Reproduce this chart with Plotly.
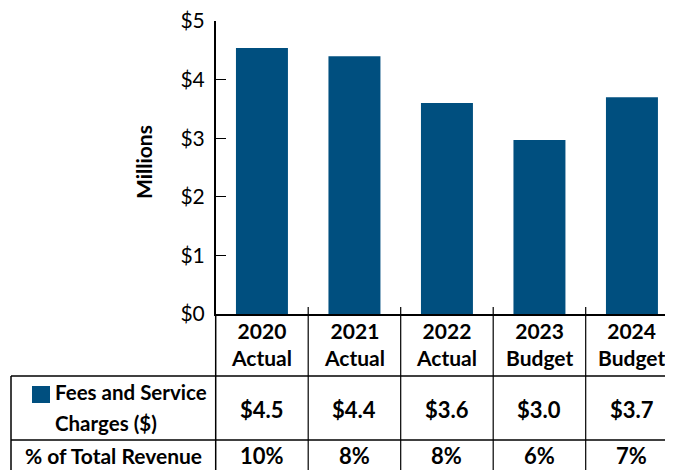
import plotly.graph_objects as go

categories = ["2020", "2021", "2022", "2023", "2024"]
category_types = ["Actual", "Actual", "Actual", "Budget", "Budget"]
fees_millions = [4.54, 4.40, 3.60, 2.97, 3.70]
fees_labels = ["$4.5", "$4.4", "$3.6", "$3.0", "$3.7"]
pct_total_revenue = ["10%", "8%", "8%", "6%", "7%"]
y_tick_vals = [0, 1, 2, 3, 4, 5]
y_tick_text = ["$0", "$1", "$2", "$3", "$4", "$5"]
series_name = "Fees and Service<br>Charges ($)"
row2_name = "% of Total Revenue"

# page places the figure 8px in from the top-left corner
OFF = 8
W, H = 673 - OFF, 470 - OFF
BLUE = "#004F7F"
FONT = "Lato, Liberation Sans, sans-serif"

def py(p):
    return (H - (p - OFF)) / H

def px(p):
    return (p - OFF) / W

x_left = 215.7
y_zero = 314
y_five = 21

fig = go.Figure()
fig.add_trace(go.Bar(
    x=list(range(len(categories))),
    y=fees_millions,
    marker=dict(color=BLUE, line=dict(width=0)),
    width=0.562,
    hoverinfo="skip",
    showlegend=False,
))

ncat = len(categories)
cat_px = 92.5
x_max = -0.5 + (673 - x_left) / cat_px

fig.update_layout(
    template="none",
    width=W, height=H,
    margin=dict(l=0, r=0, t=0, b=0, pad=0, autoexpand=False),
    paper_bgcolor="white", plot_bgcolor="white",
    font=dict(family=FONT, color="black"),
    xaxis=dict(
        domain=[px(x_left), 1], range=[-0.5, x_max], automargin=False,
        showticklabels=False, showgrid=False, zeroline=False,
        showline=True, linecolor="black", linewidth=1.5, ticks="",
    ),
    yaxis=dict(
        domain=[py(y_zero), py(y_five)], range=[0, 5.001], automargin=False,
        tickvals=y_tick_vals, ticktext=y_tick_text,
        ticks="inside", ticklen=11, tickwidth=1.3, tickcolor="black",
        showline=True, linecolor="black", linewidth=1.5,
        showgrid=False, zeroline=False,
        tickfont=dict(family=FONT, size=21, color="black"),
        ticklabelstandoff=5, ticklabeloverflow="allow",
    ),
)

shapes = []
annotations = []

annotations.append(dict(
    text="Millions", x=px(143), y=py(162), xref="paper", yref="paper",
    textangle=-90, showarrow=False, xanchor="center", yanchor="middle",
    font=dict(family=FONT, size=21, color="black", weight=700),
))

for i in range(ncat):
    shapes.append(dict(type="line", xref="x", yref="paper",
                       x0=i + 0.5, x1=i + 0.5, y0=py(307), y1=py(470),
                       line=dict(color="black", width=1.2)))
shapes.append(dict(type="line", xref="paper", yref="paper",
                   x0=px(x_left), x1=px(x_left), y0=py(y_zero), y1=0,
                   line=dict(color="black", width=1.5)))
shapes.append(dict(type="line", xref="paper", yref="paper",
                   x0=px(11), x1=1, y0=py(376), y1=py(376),
                   line=dict(color="black", width=1.5)))
shapes.append(dict(type="line", xref="paper", yref="paper",
                   x0=px(11), x1=1, y0=py(440), y1=py(440),
                   line=dict(color="black", width=1.5)))
shapes.append(dict(type="line", xref="paper", yref="paper",
                   x0=px(11), x1=px(11), y0=py(376), y1=0,
                   line=dict(color="black", width=1.5)))
shapes.append(dict(type="rect", xref="paper", yref="paper",
                   x0=px(32), x1=px(50), y0=py(403), y1=py(386),
                   fillcolor=BLUE, line=dict(width=0)))

for i in range(ncat):
    annotations.append(dict(text="%s<br>%s" % (categories[i], category_types[i]),
                            x=i, y=py(344), xref="x", yref="paper", showarrow=False,
                            xanchor="center", yanchor="middle", align="center",
                            font=dict(family=FONT, size=21, weight=700)))
    for txt, yy in ((fees_labels[i], 409), (pct_total_revenue[i], 455)):
        annotations.append(dict(text=txt, x=i, y=py(yy),
                                xref="x", yref="paper", showarrow=False,
                                xanchor="center", yanchor="middle",
                                font=dict(family=FONT, size=22, weight=700)))

line1, line2 = series_name.split("<br>")
annotations.append(dict(text=line1, x=px(53), y=py(392),
                        xref="paper", yref="paper", showarrow=False,
                        xanchor="left", yanchor="middle",
                        font=dict(family=FONT, size=20.5, weight=700)))
annotations.append(dict(text=line2, x=px(53), y=py(423),
                        xref="paper", yref="paper", showarrow=False,
                        xanchor="left", yanchor="middle",
                        font=dict(family=FONT, size=20.5, weight=700)))
annotations.append(dict(text=row2_name, x=px(204), y=py(455),
                        xref="paper", yref="paper", showarrow=False,
                        xanchor="right", yanchor="middle",
                        font=dict(family=FONT, size=21, weight=700)))

fig.update_layout(shapes=shapes, annotations=annotations)
fig.write_html("out.html")
